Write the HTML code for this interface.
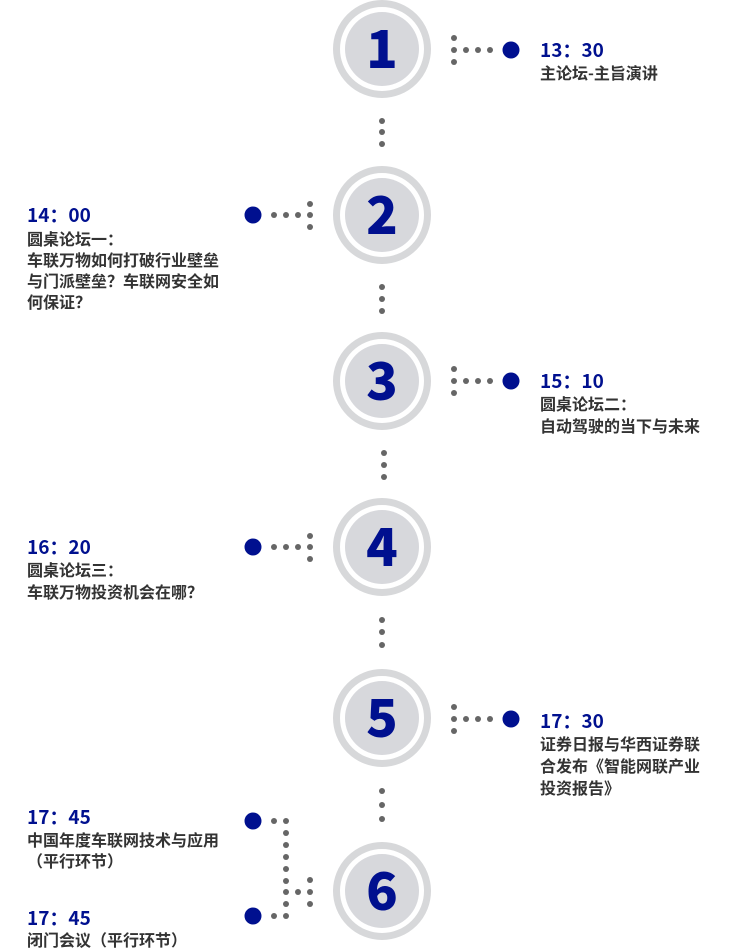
<!DOCTYPE html>
<html><head><meta charset="utf-8"><style>
html,body{margin:0;padding:0;background:#fff;}
svg{display:block}
.t{font-family:"Noto Sans CJK SC",sans-serif;font-weight:bold;font-size:19px;fill:#00108f}
.s{font-family:"Noto Sans CJK SC",sans-serif;font-weight:bold;font-size:16px;fill:#333}
.n{font-family:"Noto Sans CJK SC",sans-serif;font-weight:900;font-size:52px;fill:#00108f}
</style></head><body>
<svg width="750" height="951" viewBox="0 0 750 951" xmlns="http://www.w3.org/2000/svg">
<defs>
<g id="c">
<circle r="45.5" fill="none" stroke="#d7d8da" stroke-width="7"/>
<circle r="37" fill="#d7d8dc"/>
</g>
</defs>
<g fill="#666">
<circle cx="382" cy="121" r="3"/><circle cx="382" cy="132" r="3"/><circle cx="382" cy="144" r="3"/>
<circle cx="382" cy="287" r="3"/><circle cx="382" cy="299" r="3"/><circle cx="382" cy="311" r="3"/>
<circle cx="384" cy="453" r="3"/><circle cx="384" cy="465" r="3"/><circle cx="384" cy="477" r="3"/>
<circle cx="382" cy="620" r="3"/><circle cx="382" cy="632" r="3"/><circle cx="382" cy="645" r="3"/>
<circle cx="382" cy="791" r="3"/><circle cx="382" cy="805" r="3"/><circle cx="382" cy="819" r="3"/>
</g>
<g id="R1" fill="#666">
<circle cx="454" cy="38" r="3"/><circle cx="454" cy="50" r="3"/><circle cx="454" cy="62" r="3"/>
<circle cx="466" cy="50" r="3"/><circle cx="478" cy="50" r="3"/><circle cx="490" cy="50" r="3"/>
<circle cx="511" cy="50" r="8.5" fill="#00108f"/>
</g>
<use href="#R1" y="331"/>
<use href="#R1" y="669"/>
<g id="L2" fill="#666">
<circle cx="310" cy="204" r="3"/><circle cx="310" cy="215" r="3"/><circle cx="310" cy="227" r="3"/>
<circle cx="298" cy="215" r="3"/><circle cx="286" cy="215" r="3"/><circle cx="274" cy="215" r="3"/>
<circle cx="253" cy="215" r="8.5" fill="#00108f"/>
</g>
<use href="#L2" y="332"/>
<g fill="#666">
<circle cx="274" cy="821" r="3"/><circle cx="286" cy="821" r="3"/>
<circle cx="286" cy="833" r="3"/><circle cx="286" cy="845" r="3"/><circle cx="286" cy="857" r="3"/>
<circle cx="286" cy="869" r="3"/><circle cx="286" cy="881" r="3"/><circle cx="286" cy="892" r="3"/>
<circle cx="286" cy="904" r="3"/><circle cx="286" cy="916" r="3"/><circle cx="274" cy="916" r="3"/>
<circle cx="298" cy="892" r="3"/><circle cx="310" cy="880" r="3"/><circle cx="310" cy="892" r="3"/><circle cx="310" cy="904" r="3"/>
<circle cx="253" cy="821" r="8.5" fill="#00108f"/>
<circle cx="253" cy="916" r="8.5" fill="#00108f"/>
</g>
<use href="#c" x="382" y="49"/>
<use href="#c" x="382" y="215"/>
<use href="#c" x="382" y="381"/>
<use href="#c" x="382" y="547"/>
<use href="#c" x="382" y="718"/>
<use href="#c" x="382" y="891"/>
<g class="n" text-anchor="middle">
<text x="382" y="68">1</text>
<text x="382" y="234">2</text>
<text x="382" y="400">3</text>
<text x="382" y="566">4</text>
<text x="382" y="737">5</text>
<text x="382" y="910">6</text>
</g>
<text class="t" x="540" y="57">13：30</text>
<text class="s" x="540" y="79">主论坛-主旨演讲</text>
<text class="t" x="27" y="222">14：00</text>
<text class="s" x="27" y="245">圆桌论坛一：</text>
<text class="s" x="27" y="266">车联万物如何打破行业壁垒</text>
<text class="s" x="27" y="287">与门派壁垒？车联网安全如</text>
<text class="s" x="27" y="308">何保证？</text>
<text class="t" x="540" y="388">15：10</text>
<text class="s" x="540" y="410">圆桌论坛二：</text>
<text class="s" x="540" y="432">自动驾驶的当下与未来</text>
<text class="t" x="27" y="554">16：20</text>
<text class="s" x="27" y="576">圆桌论坛三：</text>
<text class="s" x="27" y="598">车联万物投资机会在哪？</text>
<text class="t" x="540" y="728">17：30</text>
<text class="s" x="540" y="750">证券日报与华西证券联</text>
<text class="s" x="540" y="772">合发布《智能网联产业</text>
<text class="s" x="540" y="794">投资报告》</text>
<text class="t" x="27" y="824">17：45</text>
<text class="s" x="27" y="846">中国年度车联网技术与应用</text>
<text class="s" x="27" y="867">（平行环节）</text>
<text class="t" x="27" y="925">17：45</text>
<text class="s" x="27" y="946">闭门会议（平行环节）</text>
</svg>
</body></html>
